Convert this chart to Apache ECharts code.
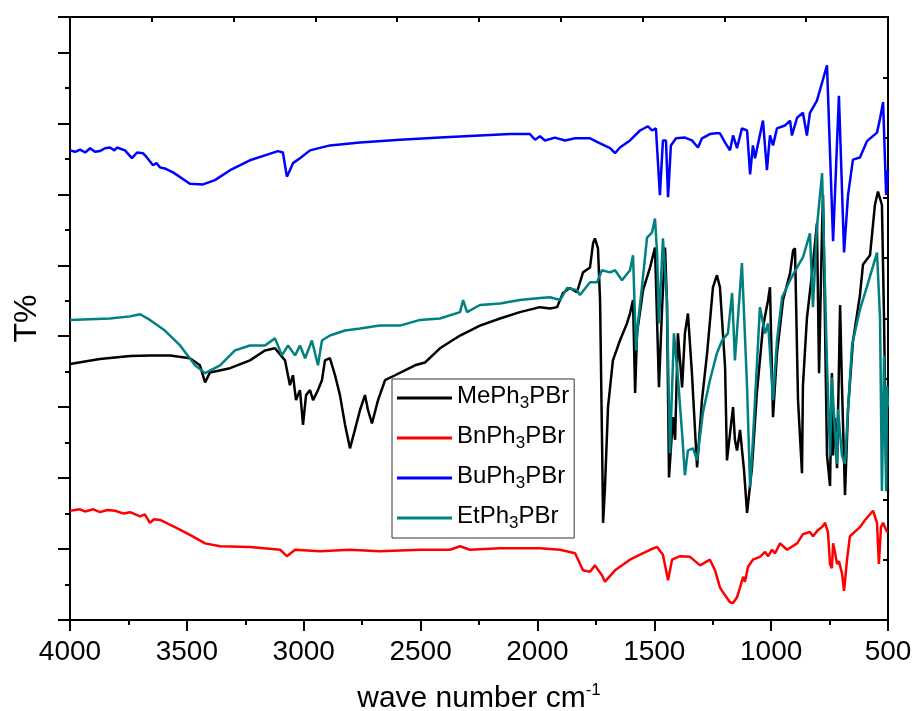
<!DOCTYPE html>
<html>
<head>
<meta charset="utf-8">
<title>FT-IR spectra</title>
<script src="https://cdn.jsdelivr.net/npm/echarts@6.0.0/dist/echarts.min.js"></script>
<style>
    html, body { margin: 0; padding: 0; background: #fff; }
    #chart { width: 916px; height: 711px; }
</style>
</head>
<body>
<div id="chart"></div>
<script>
// 字体：Liberation Sans 与 Arial 等宽
const FONT = '"Liberation Sans", Arial, sans-serif';

// 图例名称与颜色
const seriesNames = ['MePh3PBr', 'BnPh3PBr', 'BuPh3PBr', 'EtPh3PBr'];
const seriesColors = ['#000000', '#ff0000', '#0000ff', '#008080'];

// 光谱数据 [波数 cm-1, T%]
const meSpectrum = [
    [4000, 36.1], [3872, 36.8], [3743, 37.2], [3658, 37.3], [3572, 37.3], [3487, 36.9], [3444, 35.9],
    [3422, 33.5], [3401, 34.9], [3315, 35.5], [3230, 36.6], [3166, 38.0], [3123, 38.3], [3080, 36.6],
    [3059, 33.1], [3046, 34.5], [3033, 31.0], [3016, 32.4], [3003, 27.5], [2990, 31.7], [2973, 32.4],
    [2960, 31.0], [2939, 32.4], [2922, 33.8], [2909, 36.6], [2888, 36.9], [2866, 34.5], [2845, 31.7],
    [2823, 27.5], [2802, 24.2], [2781, 26.8], [2759, 29.6], [2738, 31.7], [2725, 29.6], [2708, 27.7],
    [2682, 31.0], [2652, 33.8], [2609, 34.5], [2567, 35.2], [2524, 35.9], [2481, 36.3], [2417, 38.3],
    [2331, 40.1], [2246, 41.5], [2160, 42.5], [2075, 43.4], [1989, 44.1], [1946, 43.9], [1916, 44.1],
    [1891, 46.1], [1861, 46.8], [1831, 46.2], [1805, 49.0], [1775, 49.7], [1762, 53.1], [1754, 53.8],
    [1741, 52.4], [1732, 45.1], [1724, 26.3], [1719, 13.7], [1711, 18.7], [1698, 30.0], [1677, 36.6],
    [1647, 39.4], [1617, 41.8], [1604, 43.2], [1591, 45.1], [1582, 32.0], [1574, 40.4], [1548, 46.5],
    [1518, 49.7], [1497, 52.5], [1480, 32.8], [1467, 43.7], [1454, 52.5], [1446, 45.1], [1437, 20.1],
    [1420, 28.6], [1411, 25.4], [1399, 40.4], [1381, 32.8], [1369, 40.4], [1356, 43.2], [1339, 34.8],
    [1317, 21.5], [1296, 31.0], [1274, 37.6], [1249, 46.9], [1232, 48.6], [1219, 46.9], [1197, 35.6],
    [1189, 22.5], [1176, 26.3], [1163, 30.0], [1155, 25.4], [1146, 23.9], [1133, 26.8], [1116, 21.1],
    [1103, 15.1], [1082, 21.5], [1061, 32.0], [1035, 41.3], [1013, 45.1], [1005, 46.9], [992, 28.6],
    [975, 37.6], [949, 45.1], [919, 48.9], [906, 52.1], [898, 52.4], [885, 31.0], [868, 20.7],
    [864, 33.0], [847, 42.5], [825, 48.9], [804, 55.9], [795, 34.8], [782, 55.4], [778, 59.9],
    [761, 23.2], [748, 18.9], [740, 34.8], [735, 23.2], [727, 28.5], [718, 21.4], [705, 44.4],
    [697, 33.0], [684, 17.6], [671, 29.7], [650, 39.3], [620, 45.8], [607, 50.1], [577, 51.4],
    [556, 58.5], [543, 60.4], [526, 58.5], [517, 42.5], [508, 22.0], [504, 20.1], [500, 18.0]
];

const bnSpectrum = [
    [4000, 15.4], [3957, 15.6], [3936, 15.3], [3900, 15.6], [3872, 15.2], [3840, 15.5], [3807, 15.4],
    [3770, 15.0], [3743, 15.2], [3700, 14.6], [3680, 14.9], [3658, 13.7], [3640, 14.2],
    [3615, 14.1], [3551, 13.1], [3487, 12.0], [3422, 10.8], [3358, 10.4], [3230, 10.3], [3101, 9.9],
    [3072, 9.0], [3037, 9.9], [2930, 9.7], [2802, 9.9], [2674, 9.7], [2502, 9.9], [2374, 9.9],
    [2331, 10.4], [2289, 9.9], [2160, 10.1], [1989, 10.1], [1903, 9.9], [1839, 9.4], [1805, 7.0],
    [1775, 6.8], [1754, 7.7], [1724, 6.3], [1711, 5.4], [1668, 7.0], [1604, 8.5], [1561, 9.2],
    [1518, 9.9], [1488, 10.3], [1463, 9.2], [1441, 5.6], [1424, 8.5], [1390, 9.0], [1347, 8.9],
    [1304, 7.7], [1262, 8.5], [1240, 7.0], [1219, 4.6], [1206, 3.9], [1176, 2.5], [1163, 2.4],
    [1146, 3.2], [1133, 4.6], [1120, 6.1], [1112, 5.4], [1099, 7.5], [1078, 8.5], [1048, 8.9],
    [1026, 9.6], [1013, 9.0], [996, 9.9], [983, 9.4], [962, 10.8], [932, 9.9], [889, 10.8],
    [864, 12.1], [834, 12.4], [821, 11.8], [799, 12.7], [782, 13.1], [769, 13.7], [757, 12.4],
    [748, 7.9], [740, 7.3], [735, 10.8], [727, 9.6], [718, 7.9], [710, 8.3], [697, 6.6],
    [688, 4.1], [675, 8.6], [663, 11.8], [620, 13.1], [598, 14.1], [577, 14.9], [564, 15.4],
    [547, 13.7], [539, 7.9], [530, 13.1], [521, 13.7], [508, 12.7], [504, 12.4], [500, 12.5]
];

const buSpectrum = [
    [4000, 66.2], [3978, 66.0], [3957, 66.3], [3935, 65.9], [3914, 66.5], [3893, 66.0], [3872, 66.1],
    [3850, 66.5], [3829, 66.6], [3810, 66.2], [3799, 66.6], [3765, 66.2], [3735, 65.1], [3713, 65.9],
    [3688, 65.8], [3671, 65.2], [3645, 64.1], [3630, 64.4], [3615, 63.8], [3590, 63.6], [3559, 63.1],
    [3487, 61.5], [3431, 61.4], [3380, 62.0], [3315, 63.4], [3230, 64.8], [3166, 65.5], [3110, 66.1],
    [3089, 65.9], [3072, 62.5], [3059, 63.4], [3046, 64.4], [3016, 65.1], [2973, 66.2], [2888, 66.9],
    [2759, 67.3], [2588, 67.7], [2417, 68.0], [2246, 68.3], [2117, 68.5], [2032, 68.5], [2010, 67.7],
    [1989, 68.2], [1968, 67.6], [1925, 68.0], [1882, 67.6], [1839, 67.9], [1775, 67.9], [1732, 67.2],
    [1689, 66.5], [1668, 65.8], [1647, 66.6], [1604, 67.6], [1561, 69.0], [1527, 69.6], [1510, 69.0],
    [1493, 69.3], [1476, 59.9], [1463, 67.6], [1450, 67.6], [1441, 59.6], [1429, 66.9], [1407, 67.9],
    [1369, 68.0], [1339, 67.6], [1313, 66.6], [1296, 67.9], [1262, 68.5], [1236, 68.6], [1219, 68.6],
    [1197, 67.3], [1176, 66.2], [1163, 68.3], [1146, 66.5], [1125, 69.3], [1103, 69.0], [1090, 62.8],
    [1078, 66.9], [1069, 65.1], [1035, 70.4], [1018, 63.4], [1005, 68.3], [992, 66.9], [975, 69.3],
    [941, 69.7], [919, 70.4], [911, 68.3], [889, 70.8], [864, 71.5], [847, 68.3], [834, 71.5],
    [804, 73.2], [761, 78.2], [735, 53.4], [710, 73.9], [688, 51.8], [671, 59.9], [650, 64.9],
    [620, 65.2], [590, 67.5], [547, 68.7], [534, 70.7], [521, 73.0], [508, 59.9], [500, 63.4]
];

const etSpectrum = [
    [4000, 42.3], [3914, 42.4], [3829, 42.5], [3743, 42.8], [3700, 43.1], [3658, 42.3], [3594, 40.8],
    [3529, 38.7], [3465, 35.9], [3422, 34.8], [3358, 35.9], [3294, 38.0], [3230, 38.7], [3166, 38.7],
    [3123, 39.7], [3093, 37.3], [3067, 38.7], [3037, 37.3], [3016, 38.7], [2994, 36.9], [2965, 39.4],
    [2939, 35.9], [2922, 39.4], [2888, 40.1], [2823, 40.8], [2759, 41.1], [2674, 41.5], [2588, 41.5],
    [2502, 42.3], [2417, 42.5], [2331, 43.4], [2318, 45.1], [2301, 43.4], [2246, 44.4], [2160, 44.6],
    [2075, 45.1], [1989, 45.4], [1946, 45.5], [1903, 45.1], [1873, 46.8], [1831, 46.5], [1818, 45.8],
    [1775, 47.6], [1745, 47.6], [1724, 49.3], [1689, 49.0], [1668, 49.3], [1638, 47.9], [1604, 49.3],
    [1591, 51.4], [1578, 38.0], [1570, 41.8], [1553, 46.9], [1531, 53.9], [1510, 54.6], [1497, 56.6],
    [1488, 51.7], [1480, 41.8], [1463, 53.8], [1446, 45.1], [1433, 23.5], [1416, 40.4], [1399, 34.2],
    [1381, 26.3], [1369, 20.4], [1356, 23.9], [1334, 24.2], [1317, 22.5], [1292, 29.2], [1262, 33.8],
    [1232, 37.6], [1210, 39.4], [1185, 40.4], [1167, 46.1], [1155, 36.6], [1125, 50.3], [1103, 32.8],
    [1090, 18.7], [1078, 25.4], [1048, 44.1], [1026, 40.4], [1013, 41.8], [992, 31.0], [975, 39.4],
    [953, 45.5], [919, 47.9], [889, 49.7], [864, 51.1], [834, 54.5], [821, 44.1], [804, 55.4],
    [782, 63.0], [761, 36.1], [748, 23.2], [740, 34.2], [727, 26.5], [718, 22.0], [714, 29.7],
    [697, 23.2], [684, 22.0], [671, 29.7], [654, 38.7], [620, 43.8], [590, 47.0], [547, 51.8],
    [534, 42.5], [526, 18.2], [517, 37.3], [508, 18.2], [504, 33.0], [500, 30.0]
];

const spectra = [meSpectrum, bnSpectrum, buSpectrum, etSpectrum];

const chart = echarts.init(document.getElementById('chart'), null, { renderer: 'canvas' });

const blackLine = { color: '#000', width: 2 };

const option = {
    animation: false,
    backgroundColor: '#fff',
    textStyle: { fontFamily: FONT },
    grid: {
        left: 70,
        right: 28,
        top: 17,
        bottom: 91,
        outerBoundsMode: 'none'
    },
    legend: {
        data: seriesNames,
        orient: 'vertical',
        left: 392,
        top: 379,
        padding: [2, 5, 6, 5],
        itemGap: 9,
        itemWidth: 55,
        itemHeight: 3,
        icon: 'rect',
        borderColor: '#333',
        borderWidth: 1,
        backgroundColor: '#fff',
        formatter: function (name) {
            const m = name.match(/^(.*Ph)3(PBr)$/);
            return '{a|' + m[1] + '}{s|3}{a|' + m[2] + '}';
        },
        textStyle: {
            rich: {
                a: { fontSize: 24, lineHeight: 28, verticalAlign: 'top', color: '#000', fontFamily: FONT },
                s: { fontSize: 17, lineHeight: 17, verticalAlign: 'bottom', padding: [14, 0, 0, 0], color: '#000', fontFamily: FONT }
            }
        }
    },
    xAxis: [
        {
            type: 'value',
            position: 'bottom',
            inverse: true,
            min: 500,
            max: 4000,
            interval: 500,
            axisLine: { show: true, onZero: false, lineStyle: blackLine },
            axisTick: { show: true, inside: false, length: 11, lineStyle: blackLine },
            minorTick: { show: true, splitNumber: 2, length: 5, lineStyle: blackLine },
            splitLine: { show: false },
            axisLabel: {
                fontSize: 28,
                color: '#000',
                fontFamily: FONT,
                margin: 18,
                formatter: function (v) { return String(v); }
            },
            name: '{a|wave number cm}{s|-1}',
            nameLocation: 'middle',
            nameGap: 62,
            nameTextStyle: {
                rich: {
                    a: { fontSize: 30, lineHeight: 34, color: '#000', fontFamily: FONT },
                    s: { fontSize: 17, lineHeight: 17, verticalAlign: 'top', color: '#000', fontFamily: FONT }
                }
            }
        },
        {
            type: 'value',
            position: 'top',
            min: 0,
            max: 10,
            interval: 1,
            axisLine: { show: true, onZero: false, lineStyle: blackLine },
            axisTick: { show: true, inside: true, length: 5, lineStyle: blackLine },
            axisLabel: { show: false },
            splitLine: { show: false }
        }
    ],
    yAxis: [
        {
            type: 'value',
            position: 'left',
            min: 0,
            max: 85,
            interval: 10,
            axisLine: { show: true, onZero: false, lineStyle: blackLine },
            axisTick: { show: true, inside: false, length: 12, lineStyle: blackLine },
            minorTick: { show: true, splitNumber: 2, length: 5, lineStyle: blackLine },
            axisLabel: { show: false },
            splitLine: { show: false },
            name: 'T%',
            nameLocation: 'middle',
            nameGap: 27,
            nameTextStyle: { fontSize: 32, color: '#000', fontFamily: FONT }
        },
        {
            type: 'value',
            position: 'right',
            min: 0,
            max: 10,
            interval: 1,
            axisLine: { show: true, onZero: false, lineStyle: blackLine },
            axisTick: { show: true, inside: true, length: 5, lineStyle: blackLine },
            axisLabel: { show: false },
            splitLine: { show: false }
        }
    ],
    series: spectra.map(function (data, i) {
        return {
            name: seriesNames[i],
            type: 'line',
            xAxisIndex: 0,
            yAxisIndex: 0,
            data: data,
            symbol: 'none',
            lineStyle: { color: seriesColors[i], width: 2.5 },
            itemStyle: { color: seriesColors[i] }
        };
    })
};

chart.setOption(option);
</script>
</body>
</html>
